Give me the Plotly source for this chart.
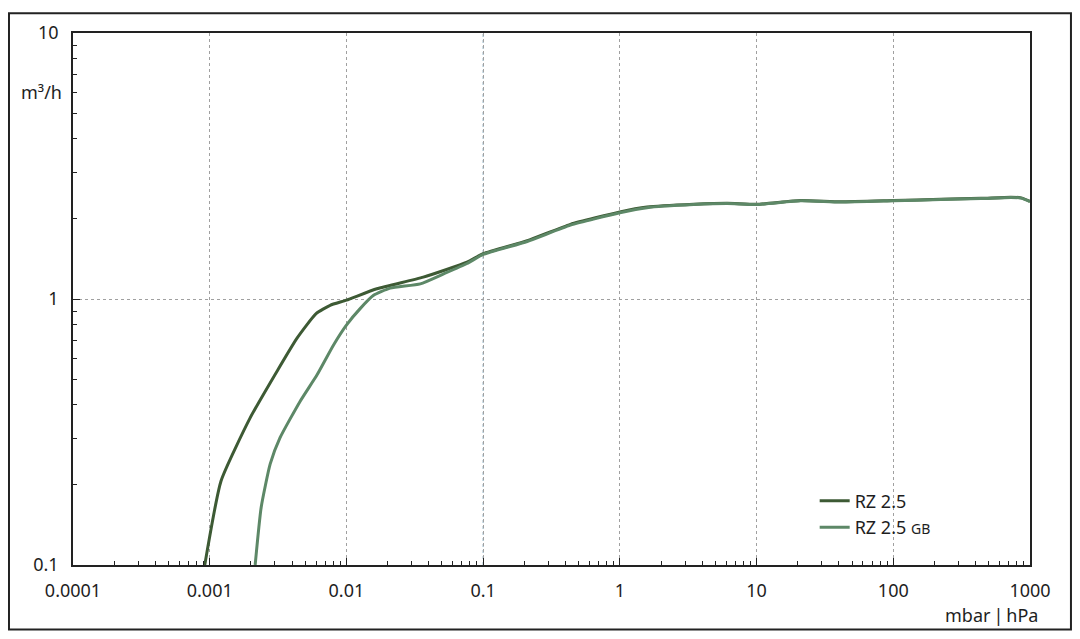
import plotly.graph_objects as go

# Pumpkurve: Saugvermögen über Ansaugdruck (log-log)
p_rz = [0.00092, 0.00121, 0.00198, 0.0031, 0.00434, 0.0060, 0.0076, 0.0100, 0.0167,
        0.0365, 0.0762, 0.1, 0.21, 0.435, 1.0, 1.58, 3.47, 6.1, 10, 21, 41, 100,
        222, 437, 725, 860, 1000]
q_rz = [0.100, 0.207, 0.358, 0.534, 0.711, 0.881, 0.947, 0.99, 1.093,
        1.208, 1.375, 1.48, 1.656, 1.909, 2.125, 2.216, 2.27, 2.29, 2.27, 2.345, 2.32, 2.345,
        2.37, 2.39, 2.415, 2.40, 2.33]

p_gb = [0.00215, 0.00238, 0.00277, 0.00327, 0.00459, 0.0061, 0.00805, 0.0100, 0.0126,
        0.0158, 0.0209, 0.0347, 0.0514, 0.0762, 0.1, 0.21, 0.435, 1.0, 1.58, 3.47, 6.1,
        10, 21, 41, 100, 222, 437, 725, 860, 1000]
q_gb = [0.100, 0.165, 0.240, 0.301, 0.413, 0.519, 0.672, 0.798, 0.920,
        1.032, 1.099, 1.14, 1.243, 1.36, 1.47, 1.645, 1.895, 2.11, 2.205, 2.265, 2.285,
        2.265, 2.34, 2.315, 2.34, 2.365, 2.385, 2.41, 2.395, 2.325]

x_ticks = [0.0001, 0.001, 0.01, 0.1, 1, 10, 100, 1000]
x_labels = ["0.0001", "0.001", "0.01", "0.1", "1", "10", "100", "1000"]
y_ticks = [0.1, 1, 10]
y_labels = ["0.1", "1", "10"]

FONT = "Noto Sans"
C_RZ = "#3d5a34"
C_GB = "#5d8867"
TXT = "#1e1e1e"

# Nebenteilstriche 2..9 je Dekade
x_minor = [m * d for d in x_ticks[:-1] for m in range(2, 10)]
y_minor = [m * d for d in y_ticks[:-1] for m in range(2, 10)]

fig = go.Figure()
fig.add_trace(go.Scatter(x=p_rz, y=q_rz, mode="lines", name="RZ 2.5",
                         line=dict(color=C_RZ, width=3, shape="spline", smoothing=0.5)))
fig.add_trace(go.Scatter(x=p_gb, y=q_gb, mode="lines",
                         name="RZ 2.5 <span style='font-size:14px'>GB</span>",
                         line=dict(color=C_GB, width=3, shape="spline", smoothing=0.5)))

# Seite hat 8px Rand im Browser -> Figur etwas kleiner
fig.update_layout(
    width=1064, height=623,
    margin=dict(l=65, r=42, t=21, b=66),
    paper_bgcolor="white", plot_bgcolor="white",
    font=dict(family=FONT, size=18, color=TXT),
    showlegend=True,
    legend=dict(x=0.775, y=0.155, xanchor="left", yanchor="top",
                bgcolor="rgba(0,0,0,0)", font=dict(size=18, color=TXT),
                tracegroupgap=0),
)

fig.update_xaxes(
    type="log", range=[-4, 3],
    tickmode="array", tickvals=x_ticks, ticktext=x_labels,
    ticks="inside", ticklen=7, tickcolor="#222", tickwidth=1.2,
    showline=True, linecolor="#222", linewidth=1.5, mirror=True,
    showgrid=True, gridcolor="#a0a0a0", griddash="dot", gridwidth=1,
    minor=dict(tickmode="array", tickvals=x_minor, ticks="inside", ticklen=4,
               tickcolor="#222", showgrid=False),
    ticklabelstandoff=9, zeroline=False,
)
fig.update_yaxes(
    type="log", range=[-1, 1],
    tickmode="array", tickvals=y_ticks, ticktext=y_labels,
    ticks="inside", ticklen=7, tickcolor="#222", tickwidth=1.2,
    showline=True, linecolor="#222", linewidth=1.5, mirror=True,
    showgrid=True, gridcolor="#a0a0a0", griddash="dot", gridwidth=1,
    minor=dict(tickmode="array", tickvals=y_minor, ticks="inside", ticklen=4,
               tickcolor="#222", showgrid=False),
    ticklabelstandoff=9, zeroline=False,
)

# Gitterlinie bei 0.1 mbar etwas bläulich
fig.add_shape(type="line", xref="x", yref="paper", x0=0.1, x1=0.1, y0=0, y1=1,
              line=dict(color="#86a9bd", width=1, dash="dot"), layer="below")

# Achsenbeschriftungen
fig.add_annotation(text="m³/h", xref="paper", yref="y", x=-0.0094, y=0.778,
                   xanchor="right", yanchor="middle", showarrow=False,
                   font=dict(family=FONT, size=18, color=TXT))
fig.add_annotation(text="mbar\u2009|\u2009hPa", xref="paper", yref="paper",
                   x=1.0105, y=-0.0933, xanchor="right", yanchor="middle",
                   showarrow=False, font=dict(family=FONT, size=18, color=TXT))

# Rahmen um das ganze Bild
fig.add_shape(type="rect", xref="paper", yref="paper",
              x0=-0.0669, x1=1.0428, y0=-0.1213, y1=1.0373,
              line=dict(color="#222", width=2), fillcolor="rgba(0,0,0,0)")

fig.write_html("out.html")
